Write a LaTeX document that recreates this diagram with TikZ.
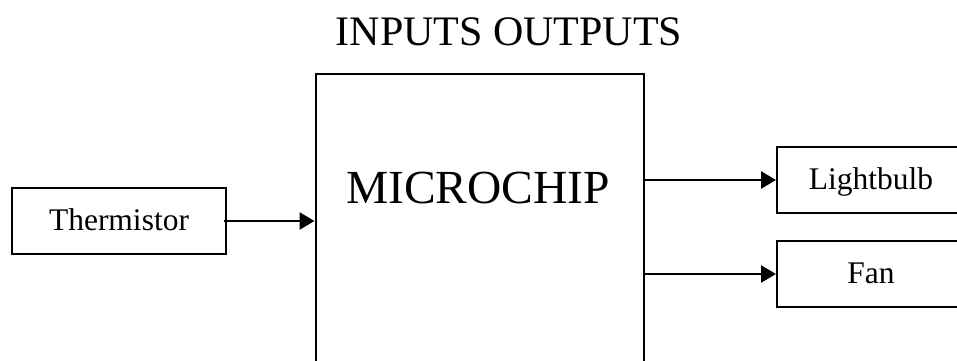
\documentclass[tikz,border=0pt]{standalone}
\usepackage{fontspec}
\setmainfont{Liberation Serif}
\usetikzlibrary{arrows.meta}
\begin{document}
\begin{tikzpicture}[x=1pt,y=1pt,
  boxline/.style={draw=black,line width=2pt},
  smallbox/.style={boxline,rectangle,minimum width=214pt,minimum height=66pt,inner sep=0pt,
    font=\fontsize{31.5}{36}\selectfont,text height=22pt,text depth=4pt},
  conn/.style={line width=2.6pt,-{Triangle[length=15pt,width=17pt]}}]
\useasboundingbox (0,0) rectangle (957,360);
\clip (0,0) rectangle (957,360);
\node[anchor=base,font=\fontsize{42}{50}\selectfont,inner sep=0pt] (title) at (509,315) {INPUTS OUTPUTS};
\node[boxline,rectangle,minimum width=328.5pt,minimum height=346pt,inner sep=0pt] (chip) at (479.75,113) {};
\node[anchor=base,font=\fontsize{47.5}{56}\selectfont,inner sep=0pt] (chiplabel) at (478,157) {MICROCHIP};
\node[smallbox] (therm) at (119,139) {Thermistor};
\node[smallbox,minimum width=188pt] (light) at (871,180) {Lightbulb};
\node[smallbox,minimum width=188pt] (fan) at (871,86) {Fan};
\draw[conn] ([xshift=-3pt]therm.east) -- (therm.east -| chip.west);
\draw[conn] (chip.east |- light.west) -- (light.west);
\draw[conn] (chip.east |- fan.west) -- (fan.west);
\end{tikzpicture}
\end{document}
